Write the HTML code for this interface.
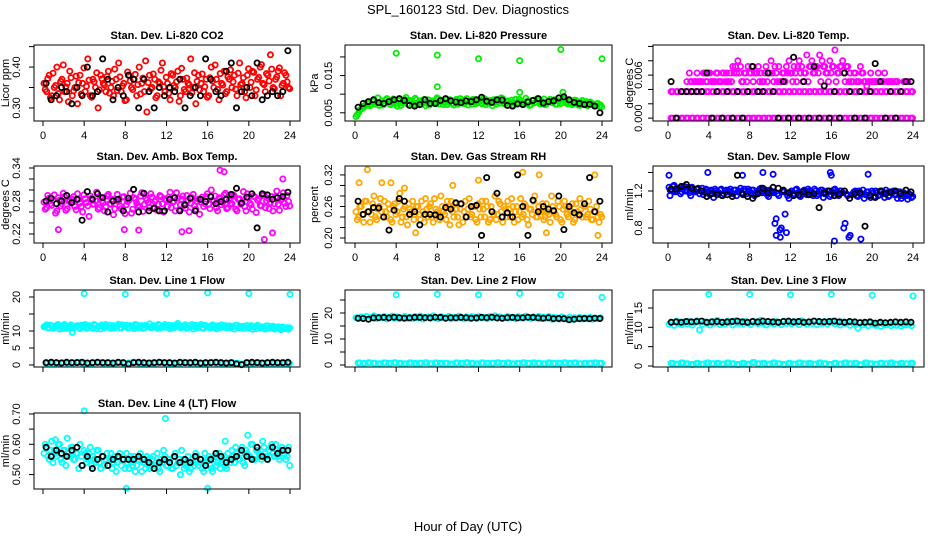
<!DOCTYPE html>
<html><head><meta charset="utf-8">
<style>
body{margin:0;background:#fff;}
svg{display:block;font-family:"Liberation Sans",Arial,sans-serif;}
</style></head>
<body>
<svg id="chart" width="936" height="540" viewBox="0 0 936 540" xmlns="http://www.w3.org/2000/svg">
<rect width="936" height="540" fill="#fff"/>
<text x="468" y="14" text-anchor="middle" font-size="13">SPL_160123  Std. Dev. Diagnostics</text>
<text x="468" y="531" text-anchor="middle" font-size="13">Hour of Day (UTC)</text>
</svg>
<script>
// ---- data ----
const hourTicks = [0,4,8,12,16,20,24];
const co2A = [0.36,0.34,0.38,0.33,0.35,0.40,0.32,0.37,0.34,0.36,0.39,0.33,0.35,0.31,0.38,0.36,0.34,0.42,0.33,0.37,0.35,0.30,0.38,0.36,
0.34,0.39,0.35,0.33,0.37,0.41,0.34,0.36,0.32,0.38,0.35,0.37,0.33,0.40,0.36,0.34,0.29,0.38,0.35,0.37,0.33,0.36,0.41,0.34,
0.36,0.32,0.38,0.35,0.39,0.33,0.37,0.34,0.36,0.42,0.35,0.31,0.38,0.36,0.34,0.37,0.33,0.40,0.35,0.37,0.32,0.36,0.39,0.34,
0.37,0.35,0.38,0.33,0.41,0.36,0.34,0.38,0.35,0.39,0.33,0.37,0.40,0.36,0.34,0.38,0.43,0.35,0.37,0.39,0.33,0.36,0.38,0.35];
const co2B = [0.345,0.372,0.325,0.385,0.355,0.335,0.365,0.405,0.352,0.315,0.374,0.342,0.378,0.362,0.334,0.398,0.353,0.368,0.326,0.364,0.386,0.344,0.371,0.356,
0.377,0.336,0.365,0.395,0.343,0.376,0.354,0.318,0.388,0.366,0.345,0.382,0.357,0.334,0.373,0.415,0.362,0.347,0.383,0.325,0.364,0.392,0.352,0.375,
0.336,0.384,0.355,0.364,0.316,0.397,0.345,0.373,0.356,0.337,0.386,0.365,0.344,0.383,0.352,0.326,0.374,0.366,0.405,0.345,0.384,0.356,0.335,0.376,
0.393,0.364,0.346,0.385,0.357,0.374,0.325,0.396,0.363,0.387,0.344,0.375,0.406,0.357,0.384,0.366,0.395,0.347,0.376,0.398,0.355,0.386,0.364,0.347];
const co2Black = [0.36,0.32,0.33,0.35,0.34,0.31,0.35,0.33,0.40,0.33,0.34,0.42,0.37,0.32,0.35,0.33,0.38,0.37,0.30,0.37,0.34,0.30,0.35,0.33,
0.35,0.34,0.37,0.30,0.33,0.35,0.33,0.42,0.37,0.34,0.33,0.39,0.41,0.30,0.34,0.35,0.33,0.41,0.32,0.33,0.34,0.33,0.34,0.44];
const presA = [0.004,0.005,0.006,0.0065,0.007,0.0075,0.0072,0.0085,0.0078,0.007,0.0082,0.0076,0.0088,0.0074,0.0081,0.0079,0.0068,0.0084,0.0077,0.0086,0.0073,0.0083,0.0076,0.0089,
0.0075,0.0082,0.0078,0.0069,0.0085,0.0077,0.0081,0.0074,0.0087,0.0079,0.0072,0.0084,0.0078,0.0083,0.0071,0.0086,0.0077,0.0082,0.0075,0.0088,0.0079,0.0073,0.0085,0.0078,
0.0081,0.0074,0.0087,0.0077,0.0083,0.0069,0.0085,0.0079,0.0076,0.0088,0.0074,0.0082,0.0078,0.0071,0.0086,0.0077,0.0081,0.0075,0.0089,0.0078,0.0072,0.0084,0.0079,0.0083,
0.0076,0.0087,0.0074,0.0081,0.0078,0.0085,0.0073,0.0082,0.0077,0.0086,0.0075,0.0080,0.0072,0.0084,0.0078,0.0070,0.0083,0.0076,0.0069,0.0079,0.0073,0.0068,0.0075,0.0071];
const presB = [0.0045,0.0058,0.0062,0.0070,0.0078,0.0069,0.0080,0.0073,0.0090,0.0076,0.0071,0.0084,0.0079,0.0072,0.0087,0.0075,0.0083,0.0070,0.0078,0.0091,0.0074,0.0080,0.0072,0.0085,
0.0079,0.0073,0.0086,0.0076,0.0071,0.0082,0.0078,0.0090,0.0074,0.0081,0.0077,0.0072,0.0085,0.0075,0.0080,0.0073,0.0088,0.0076,0.0083,0.0071,0.0078,0.0086,0.0074,0.0081,
0.0076,0.0089,0.0072,0.0080,0.0078,0.0085,0.0073,0.0082,0.0090,0.0075,0.0079,0.0071,0.0084,0.0077,0.0073,0.0086,0.0079,0.0074,0.0081,0.0070,0.0083,0.0077,0.0088,0.0074,
0.0080,0.0072,0.0079,0.0086,0.0077,0.0073,0.0082,0.0075,0.0089,0.0078,0.0074,0.0081,0.0076,0.0083,0.0071,0.0078,0.0074,0.0080,0.0072,0.0076,0.0070,0.0074,0.0068,0.0066];
const presOutX = [4,8,8,12,16,16,20,20.2,24];
const presOutY = [0.021,0.0205,0.012,0.0195,0.019,0.0105,0.022,0.0105,0.0195];
const presBlack = [0.0065,0.0075,0.0080,0.0085,0.0077,0.0075,0.0080,0.0085,0.0088,0.0083,0.0070,0.0068,0.0072,0.0085,0.0075,0.0075,0.0083,0.0088,0.0082,0.0079,0.0077,0.0082,0.0080,0.0085,
0.0092,0.0081,0.0078,0.0085,0.0084,0.0070,0.0068,0.0074,0.0072,0.0079,0.0083,0.0088,0.0076,0.0080,0.0082,0.0090,0.0093,0.0085,0.0078,0.0075,0.0072,0.0073,0.0068,0.0050];
const tempZero = [0,0,0,0,0,0,0,0,0,0,0,0,0,0,0,0,0,0,0,0,0,0,0,0,0,0,0,0,0,0,0,0,0,0,0,0,0,0,0,0,0,0,0,0,0,0,0,0];
const tempQuarter = [0.0037,0.0037,0.0037,0.0037,0.0037,0.0037,0.0037,0.0037,0.0037,0.0037,0.0037,0.0037,0.0037,0.0037,0.0037,0.0037,0.0037,0.0037,0.0037,0.0037,0.0037,0.0037,0.0037,0.0037,
0.0037,0.0037,0.0037,0.0037,0.0037,0.0037,0.0037,0.0037,0.0037,0.0037,0.0037,0.0037,0.0037,0.0037,0.0037,0.0037,0.0037,0.0037,0.0037,0.0037,0.0037,0.0037,0.0037,0.0037];
const tempHighA = [null,null,null,null,null,null,null,0.0051,0.0063,0.0051,0.0051,0.0063,0.0051,0.0051,0.0063,0.0051,0.0063,0.0051,0.0051,0.0063,0.0051,0.0063,0.0051,0.0051,
0.0063,0.0072,0.0072,0.008,0.0072,0.0051,0.0063,0.0072,0.0063,0.0051,0.0063,0.0072,0.0063,0.0051,0.0072,0.0063,0.008,0.0051,0.0063,0.0072,0.0051,0.0063,0.0072,0.008,
0.0063,0.0072,0.0051,0.008,0.0072,0.0063,0.0088,0.0072,0.008,0.0063,0.0072,0.0088,0.008,0.0072,0.0063,0.008,0.0072,0.0095,0.0063,0.0072,0.008,0.0051,0.0072,0.0063,
0.0051,0.0063,0.0051,0.0072,0.0063,0.0051,0.0051,0.0063,0.0051,0.0051,0.0063,0.0051,0.0051,null,0.0051,0.0051,null,0.0051,null,null,0.0051,null,null,null];
const tempHighB = [null,null,null,null,null,null,null,null,0.0051,null,0.0051,0.0051,0.0051,0.0063,0.0051,0.0063,0.0051,0.0051,0.0063,0.0051,0.0051,0.0063,0.0063,0.0051,
0.0051,0.0063,0.0063,0.0063,0.0051,0.0063,0.0051,0.0063,0.0072,0.0063,0.0063,0.0051,0.0051,0.0063,0.0051,0.0063,0.0063,0.0072,0.0051,0.0051,0.0063,0.0051,0.0063,0.0063,
0.0051,0.0063,0.0072,0.0063,0.0051,0.0063,0.0051,0.0072,0.0063,0.0072,0.0063,0.0051,0.0072,0.0063,0.0051,0.0063,0.0072,0.0051,0.0063,0.0072,0.0063,0.0072,0.0051,0.0051,
0.0063,0.0051,0.0051,0.0063,0.0051,0.0045,0.0051,0.0051,0.0051,0.0051,0.0051,0.0051,0.0063,0.0051,0.0051,0.0051,0.0051,0.0051,null,null,0.0051,0.0051,null,null];
const tempBlack = [0.0051,0,0.0037,0.0037,0.0037,0.0037,0.0037,0.0063,0,0.0037,0,0.0037,0,0.0037,0,0.0037,0.0072,0.0037,0.0037,0.0063,0.0037,0,0.0051,0,
0.0085,0,0.0051,0,0.0072,0,0.0045,0,0.0037,0,0.0063,0.0037,0,0.0037,0,0.0037,0.0076,0.0051,0,0.0037,0,0.0037,0.0051,0.0051];
const ambA = [0.278,0.268,0.285,0.272,0.291,0.262,0.281,0.275,0.288,0.266,0.279,0.283,0.27,0.293,0.276,0.26,0.284,0.271,0.289,0.274,0.28,0.265,0.287,0.277,
0.269,0.292,0.274,0.255,0.283,0.279,0.266,0.288,0.273,0.281,0.258,0.286,0.276,0.27,0.295,0.274,0.282,0.268,0.287,0.279,0.263,0.29,0.275,0.284,
0.27,0.296,0.278,0.262,0.285,0.273,0.289,0.267,0.281,0.276,0.292,0.265,0.283,0.278,0.27,0.288,0.274,0.3,0.279,0.268,0.286,0.273,0.291,0.266,
0.281,0.275,0.289,0.262,0.284,0.278,0.27,0.293,0.276,0.265,0.287,0.281,0.272,0.29,0.268,0.285,0.277,0.262,0.288,0.274,0.281,0.295,0.27,0.279];
const ambB = [0.265,0.29,0.275,0.282,0.258,0.286,0.271,0.294,0.263,0.28,0.276,0.288,0.264,0.283,0.27,0.291,0.277,0.252,0.285,0.274,0.296,0.268,0.28,0.262,
0.289,0.275,0.283,0.266,0.292,0.271,0.287,0.257,0.279,0.294,0.265,0.283,0.272,0.289,0.261,0.285,0.277,0.293,0.266,0.282,0.274,0.288,0.26,0.281,
0.287,0.268,0.279,0.295,0.264,0.283,0.272,0.29,0.26,0.286,0.271,0.279,0.256,0.287,0.275,0.293,0.266,0.281,0.289,0.262,0.284,0.277,0.294,0.268,
0.276,0.291,0.265,0.283,0.274,0.297,0.262,0.286,0.273,0.289,0.259,0.284,0.271,0.292,0.28,0.266,0.288,0.275,0.298,0.263,0.284,0.276,0.29,0.271];
const ambOutX = [1.5,7.9,9.3,13.5,14.2,17.2,17.6,21.5,22.3,23.3];
const ambOutY = [0.228,0.228,0.227,0.224,0.226,0.336,0.333,0.210,0.222,0.320];
const ambBlack = [0.28,0.285,0.275,0.28,0.29,0.277,0.283,0.245,0.297,0.283,0.293,0.286,0.26,0.280,0.283,0.262,0.285,0.301,0.26,0.294,0.262,0.267,0.262,0.262,
0.283,0.286,0.262,0.273,0.285,0.262,0.283,0.279,0.288,0.275,0.279,0.283,0.292,0.303,0.276,0.287,0.293,0.231,0.293,0.291,0.283,0.286,0.288,0.296];
const rhA = [0.25,0.24,0.26,0.23,0.27,0.25,0.245,0.28,0.235,0.26,0.25,0.27,0.24,0.255,0.23,0.265,0.25,0.285,0.24,0.26,0.225,0.255,0.27,0.245,
0.26,0.235,0.25,0.275,0.24,0.265,0.23,0.255,0.245,0.28,0.25,0.235,0.26,0.27,0.24,0.255,0.225,0.265,0.25,0.24,0.275,0.245,0.26,0.23,
0.255,0.27,0.24,0.26,0.235,0.25,0.28,0.245,0.265,0.23,0.255,0.27,0.24,0.26,0.25,0.235,0.275,0.245,0.26,0.225,0.255,0.27,0.24,0.26,
0.25,0.235,0.265,0.245,0.28,0.25,0.24,0.26,0.23,0.27,0.245,0.255,0.265,0.235,0.25,0.275,0.24,0.26,0.245,0.255,0.235,0.25,0.24,0.245];
const rhB = [0.235,0.26,0.245,0.27,0.25,0.23,0.265,0.24,0.255,0.275,0.24,0.25,0.265,0.235,0.26,0.245,0.27,0.23,0.255,0.24,0.265,0.25,0.235,0.26,
0.245,0.27,0.23,0.255,0.26,0.24,0.275,0.25,0.235,0.26,0.245,0.27,0.225,0.25,0.265,0.24,0.255,0.23,0.27,0.255,0.24,0.26,0.235,0.265,
0.24,0.255,0.27,0.23,0.26,0.245,0.235,0.27,0.25,0.26,0.24,0.255,0.275,0.23,0.26,0.25,0.24,0.265,0.235,0.255,0.245,0.28,0.24,0.25,
0.265,0.24,0.25,0.23,0.26,0.245,0.27,0.235,0.255,0.26,0.24,0.25,0.23,0.265,0.245,0.255,0.26,0.24,0.27,0.235,0.25,0.26,0.23,0.24];
const rhOutX = [0.4,1.2,2.6,3.5,4.8,5.9,9.5,12.0,16.3,17.9,18.6,23.3,23.6];
const rhOutY = [0.305,0.33,0.305,0.305,0.295,0.21,0.30,0.31,0.325,0.32,0.21,0.32,0.205];
const rhBlack = [0.27,0.245,0.25,0.258,0.257,0.24,0.215,0.253,0.275,0.27,0.245,0.25,0.225,0.245,0.245,0.244,0.24,0.258,0.255,0.267,0.265,0.24,0.26,0.262,
0.205,0.315,0.25,0.285,0.24,0.248,0.24,0.32,0.26,0.205,0.272,0.25,0.26,0.255,0.252,0.28,0.216,0.26,0.248,0.244,0.265,0.315,0.25,0.27];
const flowA = [1.24,1.22,1.26,1.2,1.23,1.19,1.25,1.21,1.18,1.24,1.2,1.22,1.17,1.23,1.19,1.21,1.16,1.2,1.22,1.18,1.21,1.15,1.2,1.19,
1.22,1.17,1.21,1.19,1.23,1.16,1.2,1.22,1.18,1.21,1.17,1.2,1.23,1.19,1.21,1.14,1.2,1.18,0.9,1.15,0.8,1.19,0.75,1.12,
1.2,1.17,1.22,1.15,1.19,1.21,1.16,1.2,1.18,1.22,1.15,1.19,1.21,1.17,1.2,1.14,1.19,1.22,1.16,1.2,1.18,0.85,1.15,0.72,
1.17,1.2,1.14,1.18,1.21,1.16,1.19,1.13,1.18,1.2,1.15,1.19,1.17,1.21,1.14,1.18,1.2,1.16,1.19,1.12,1.18,1.15,1.17,1.13];
const flowB = [1.21,1.25,1.19,1.23,1.17,1.22,1.2,1.24,1.15,1.21,1.19,1.23,1.2,1.16,1.22,1.19,1.21,1.13,1.2,1.18,1.22,1.17,1.21,1.2,
1.18,1.21,1.15,1.2,1.18,1.22,1.17,1.2,1.21,1.15,1.19,1.22,1.18,1.2,1.16,1.21,1.19,0.85,1.17,0.78,1.2,0.95,1.15,1.18,
1.16,1.21,1.18,1.14,1.2,1.17,1.22,1.19,1.15,1.2,1.17,1.21,1.13,1.18,1.2,1.16,1.21,1.18,1.15,1.2,0.8,1.17,0.7,1.16,
1.19,1.15,1.2,1.17,1.12,1.19,1.16,1.2,1.14,1.18,1.16,1.2,1.13,1.18,1.15,1.19,1.16,1.12,1.19,1.15,1.17,1.11,1.16,1.14];
const flowOutX = [0.1,0.2,3.9,7.3,9.3,10.3,15.9,16.0,18.9,19.6,16.3,10.6,11.0];
const flowOutY = [1.37,1.15,1.40,1.37,1.40,1.38,1.40,1.37,0.68,1.38,0.66,0.72,0.7];
const flowBlack = [1.22,1.22,1.25,1.27,1.23,1.22,1.2,1.14,1.17,1.16,1.15,1.16,1.14,1.37,1.17,1.14,1.12,1.17,1.23,1.18,1.24,1.23,1.21,1.18,
1.15,1.16,1.19,1.16,1.17,1.02,1.18,1.2,1.15,1.17,1.2,1.12,1.17,1.18,0.82,1.15,1.13,1.2,1.17,1.19,1.2,1.17,1.21,1.19];
const line1HiA = [11.2,11.8,10.9,11.5,11.0,11.7,10.6,11.4,11.9,10.8,11.3,9.6,11.1,11.6,10.7,11.4,11.9,11.0,11.5,10.8,11.7,11.2,10.6,11.5,
11.9,11.1,10.8,11.6,11.3,12.0,10.9,11.4,11.7,11.0,11.5,10.7,11.8,11.2,11.6,10.9,11.4,12.1,11.0,11.5,10.8,11.7,11.3,11.9,
11.1,10.7,11.6,11.3,12.2,10.9,11.5,11.8,11.0,11.4,10.6,11.7,11.2,11.9,10.8,11.5,11.3,11.0,11.6,10.7,11.4,11.8,11.1,10.9,
11.5,11.2,10.6,11.7,11.0,11.4,10.8,11.6,11.1,10.5,11.3,11.7,10.9,11.2,10.6,11.5,11.0,11.4,10.7,11.2,10.4,11.0,10.8,10.5];
const line1HiB = [11.5,11.0,11.7,10.8,11.3,11.9,11.1,10.7,11.6,11.2,11.8,10.9,11.4,11.0,11.7,11.3,10.8,11.6,11.1,11.9,10.7,11.4,11.8,11.0,
11.3,11.7,11.1,10.9,11.5,11.0,11.8,11.3,10.9,11.6,11.2,11.9,11.0,11.5,10.8,11.7,11.3,11.0,11.6,11.2,11.9,10.9,11.4,11.1,
11.7,11.2,10.9,11.8,11.4,11.1,11.6,10.8,11.5,11.9,11.3,10.9,11.6,11.0,11.7,11.2,10.9,11.8,11.1,11.5,11.0,11.3,11.6,11.2,
10.9,11.4,11.7,11.0,11.3,10.8,11.5,11.0,11.6,11.2,10.7,11.4,11.1,10.8,11.5,10.9,11.3,10.6,11.1,10.8,11.2,10.7,11.0,10.9];
const line1Low = [0.5,0.6,0.4,0.7,0.5,0.6,0.8,0.5,0.4,0.6,0.7,0.5,0.6,0.4,0.7,0.5,0.6,0.8,0.5,0.4,0.6,0.5,0.7,0.6,0.5,0.4,0.6,0.7,0.5,0.6,0.4,0.5,0.7,0.6,0.5,0.4,0.6,0.5,0.3,0.6,0.5,0.7,0.4,0.6,0.5,0.6,0.4,0.5];
const line1Black = [0.7,0.8,0.7,0.6,0.8,0.7,0.7,0.8,0.6,0.7,0.8,0.7,0.7,0.6,0.8,0.7,0.3,0.7,0.8,0.7,0.6,0.7,0.8,0.7,0.7,0.6,0.8,0.7,0.7,0.8,0.6,0.7,0.7,0.8,0.7,0.6,0.7,0.3,0.1,0.7,0.8,0.7,0.6,0.7,0.8,0.7,0.7,0.8];
const line1OutY = [21,20.8,21,21.2,21,20.8];
const line2Hi = [18.2,17.8,18.5,18.0,18.7,17.6,18.3,18.9,17.9,18.4,18.1,18.6,17.7,18.3,18.8,18.0,18.5,17.8,18.2,18.7,18.0,18.4,17.9,18.6,
18.1,18.8,17.7,18.3,18.5,18.0,18.9,18.2,17.8,18.6,18.3,18.0,18.7,17.9,18.4,18.1,18.8,18.2,17.8,18.5,18.0,18.6,18.3,17.9,
18.7,18.1,18.4,17.8,18.6,18.2,18.9,18.0,18.5,17.9,18.3,18.7,18.1,18.4,17.8,18.6,18.2,18.0,18.8,18.3,17.9,18.5,18.1,18.7,
17.8,18.4,18.0,18.6,17.6,18.3,18.1,17.7,18.5,18.0,17.8,18.4,17.6,18.2,17.9,18.3,17.7,18.1,17.8,18.4,17.6,18.0,17.8,18.2];
const line2Low = [0.8,0.6,0.9,0.7,0.5,0.8,0.6,0.9,0.7,0.5,0.8,0.6,0.7,0.9,0.5,0.8,0.6,0.7,0.4,0.8,0.6,0.9,0.7,0.5,0.8,0.6,0.7,0.9,0.6,0.8,0.5,0.7,0.9,0.6,0.8,0.7,0.5,0.8,0.6,0.7,0.9,0.6,0.8,0.5,0.7,0.6,0.8,0.7];
const line2Black = [18.0,17.9,17.6,18.1,18.2,18.3,18.1,18.4,18.2,18.0,18.1,18.3,18.3,18.2,18.1,18.4,18.3,18.0,18.2,18.1,18.3,18.2,18.0,18.1,18.3,18.2,18.4,18.1,18.0,18.2,18.3,18.1,18.2,18.4,18.3,18.1,18.0,18.2,17.8,17.9,17.8,17.4,17.6,17.8,17.9,17.8,18.0,17.9];
const line2OutY = [27,27.2,27,27.5,27,26];
const line3Hi = [10.8,11.3,10.5,11.6,11.0,10.7,11.4,10.9,11.5,10.6,11.2,11.7,9.3,10.8,11.4,11.0,10.6,11.5,11.1,11.8,10.7,11.3,10.9,11.6,
11.2,10.6,11.7,11.0,11.4,10.8,11.5,11.1,10.7,11.6,11.2,10.9,11.8,11.0,10.6,11.4,11.1,10.8,11.5,11.2,10.7,11.6,11.0,11.3,
10.9,11.5,11.1,10.7,11.7,11.2,10.8,11.4,11.0,11.6,10.7,11.3,11.0,11.5,10.8,11.2,11.6,10.9,11.3,10.6,11.4,11.0,11.2,10.5,
11.1,10.7,9.8,11.3,10.6,11.0,10.4,11.2,10.8,10.5,11.1,10.3,10.9,10.6,11.0,10.4,10.8,10.5,11.0,10.3,10.7,10.6,10.9,10.4];
const line3Low = [0.7,0.5,0.8,0.6,0.4,0.7,0.5,0.8,0.6,0.7,0.5,0.8,0.6,0.4,0.7,0.5,0.9,0.6,0.7,0.5,0.8,0.6,0.4,0.7,0.5,0.8,0.6,0.7,0.5,0.8,0.6,0.4,0.7,0.5,0.8,0.6,0.7,0.3,0.8,0.6,0.5,0.7,0.6,0.8,0.5,0.7,0.6,0.7];
const line3Black = [11.3,11.4,11.3,11.5,11.4,11.5,11.6,11.3,11.4,11.5,11.3,11.4,11.5,11.6,11.4,11.3,11.5,11.4,11.6,11.5,11.4,11.3,11.5,11.6,11.4,11.5,11.3,11.4,11.6,11.5,11.4,11.5,11.6,11.4,11.3,11.5,11.4,11.2,11.3,11.4,11.1,11.3,11.2,11.3,11.4,11.3,11.4,11.3];
const line3OutY = [18.5,18.5,18.4,18.5,18.3,18.1];
const line4A = [0.57,0.59,0.55,0.61,0.58,0.56,0.6,0.54,0.58,0.62,0.56,0.59,0.55,0.57,0.6,0.53,0.57,0.55,0.59,0.56,0.54,0.58,0.52,0.56,
0.55,0.53,0.57,0.54,0.51,0.56,0.53,0.55,0.57,0.52,0.54,0.56,0.53,0.55,0.51,0.54,0.56,0.52,0.55,0.53,0.57,0.51,0.54,0.56,
0.53,0.55,0.52,0.57,0.54,0.5,0.55,0.53,0.56,0.52,0.54,0.57,0.53,0.55,0.51,0.54,0.56,0.52,0.55,0.53,0.57,0.54,0.56,0.52,
0.55,0.58,0.54,0.57,0.55,0.59,0.53,0.57,0.56,0.6,0.55,0.58,0.56,0.61,0.57,0.55,0.59,0.57,0.6,0.56,0.58,0.57,0.55,0.59];
const line4B = [0.6,0.56,0.58,0.54,0.57,0.6,0.55,0.58,0.53,0.56,0.59,0.55,0.57,0.52,0.56,0.58,0.54,0.57,0.53,0.55,0.58,0.54,0.56,0.53,
0.57,0.55,0.52,0.56,0.54,0.57,0.55,0.52,0.54,0.56,0.53,0.51,0.55,0.57,0.54,0.52,0.55,0.53,0.56,0.54,0.52,0.55,0.58,0.53,
0.55,0.52,0.56,0.53,0.55,0.58,0.52,0.54,0.51,0.55,0.53,0.56,0.54,0.52,0.57,0.55,0.53,0.51,0.56,0.54,0.52,0.55,0.53,0.57,
0.54,0.56,0.59,0.55,0.57,0.54,0.58,0.56,0.6,0.55,0.58,0.57,0.55,0.59,0.56,0.58,0.6,0.56,0.58,0.55,0.59,0.57,0.56,0.53];
const line4OutX = [4.0,11.9,8.1,16.0,19.9,17.7,1.2];
const line4OutY = [0.71,0.685,0.455,0.455,0.63,0.61,0.615];
const line4Black = [0.59,0.56,0.58,0.57,0.56,0.58,0.59,0.53,0.56,0.52,0.55,0.56,0.53,0.55,0.56,0.55,0.55,0.55,0.56,0.55,0.54,0.52,0.54,0.55,
0.54,0.56,0.54,0.55,0.54,0.56,0.55,0.53,0.55,0.57,0.56,0.54,0.55,0.56,0.58,0.56,0.55,0.59,0.56,0.55,0.59,0.57,0.58,0.58];
const outlierHours = [4,8,12,16,20,24];

// ---- layout ----
const NS = 'http://www.w3.org/2000/svg';
const svg = document.getElementById('chart');
const cols = [{bx0:34,bx1:300,h0:43,h24:290,lab:14,tit:25},{bx0:345,bx1:612,h0:355,h24:602,lab:13,tit:27},{bx0:653,bx1:924,h0:668,h24:913,lab:11,tit:20}];
const rows = [{top:45,bot:121,xl:true},{top:166,bot:243,xl:true},{top:290,bot:367,xl:false},{top:413,bot:489,xl:false}];
const qx = i => i*0.25 + 0.1;
const qxB = i => i*0.25 + 0.22;
const hx = i => i*0.5 + 0.3;
const hx2 = i => i*0.5 + 0.45;

function el(tag, attrs, parent){ const e=document.createElementNS(NS,tag); for(const k in attrs) e.setAttribute(k,attrs[k]); (parent||svg).appendChild(e); return e; }

function panel(slug, title, ylab, r, c, ylim, ticks, labels, series){
  const C=cols[c], R=rows[r];
  const g = el('g',{});
  
  
  const xs = h => C.h0 + (h/24)*(C.h24-C.h0);
  const ys = v => R.bot - (v-ylim[0])/(ylim[1]-ylim[0])*(R.bot-R.top);
  const pg = el('g',{fill:'none'},g);
  
  
  series.forEach(s=>{
    s.vals.forEach((v,i)=>{
      if(v===null) return;
      const x = s.xs ? s.xs[i] : s.xf(i);
      const cy=ys(v);
      if(cy<R.top-3||cy>R.bot+3) return;
      const p = el('circle',{cx:xs(x).toFixed(1),cy:cy.toFixed(1),r:2.6,stroke:s.color,'stroke-width':s.color==='#000'?1.8:1.8},pg);
      
      
    });
  });
  const b = el('rect',{x:C.bx0,y:R.top,width:C.bx1-C.bx0,height:R.bot-R.top,fill:'none',stroke:'#000','stroke-width':1},g);
  
  
  const xa = el('g',{stroke:'#000','stroke-width':1},g);
  
  
  el('line',{x1:xs(0),x2:xs(24),y1:R.bot,y2:R.bot},xa);
  hourTicks.forEach(h=>{
    el('line',{x1:xs(h),x2:xs(h),y1:R.bot,y2:R.bot+5},xa);
    if(R.xl){
      const t = el('text',{x:xs(h),y:R.bot+18,'text-anchor':'middle','font-size':11,stroke:'none',fill:'#000'},g);
      t.textContent=h;
      
      
    }
  });
  const ya = el('g',{stroke:'#000','stroke-width':1},g);
  
  
  el('line',{x1:C.bx0,x2:C.bx0,y1:ys(ticks[0]),y2:ys(ticks[ticks.length-1])},ya);
  ticks.forEach((v,i)=>{
    el('line',{x1:C.bx0-5,x2:C.bx0,y1:ys(v),y2:ys(v)},ya);
    if(labels[i]!==''){
      const lx=C.bx0-C.lab, ly=ys(v);
      const t = el('text',{x:lx,y:ly,'text-anchor':'middle','font-size':11,transform:`rotate(-90 ${lx} ${ly})`,stroke:'none',fill:'#000'},g);
      t.textContent=labels[i];
      
      
    }
  });
  const tx=C.bx0-C.tit, ty=(R.top+R.bot)/2;
  const yt = el('text',{x:tx,y:ty,'text-anchor':'middle','font-size':11,transform:`rotate(-90 ${tx} ${ty})`},g);
  yt.textContent=ylab;
  
  
  const pt = el('text',{x:(C.bx0+C.bx1)/2,y:R.top-6,'text-anchor':'middle','font-size':11,'font-weight':'bold'},g);
  pt.textContent=title;
  
  
}

const RED='#ff0000',GRN='#00ee00',MAG='#ff00ff',ORG='#ffa500',BLU='#0000ff',CYN='#00ffff',BLK='#000';
panel('co2','Stan. Dev. Li-820 CO2','Licor ppm',0,0,[0.268,0.454],[0.30,0.35,0.40,0.45],['0.30','','0.40',''],
 [{vals:co2A,xf:qx,color:RED},{vals:co2B,xf:qxB,color:RED},{vals:co2Black,xf:hx,color:BLK}]);
panel('pressure','Stan. Dev. Li-820 Pressure','kPa',0,1,[0.0028,0.0232],[0.005,0.010,0.015,0.020],['0.005','','0.015',''],
 [{vals:presA,xf:qx,color:GRN},{vals:presB,xf:qxB,color:GRN},{vals:presOutY,xs:presOutX,color:GRN},{vals:presBlack,xf:hx,color:BLK}]);
panel('li820-temp','Stan. Dev. Li-820 Temp.','degrees C',0,2,[-0.0004,0.0102],[0,0.002,0.004,0.006,0.008,0.010],['0.000','','','0.006','',''],
 [{vals:tempZero,xf:hx,color:MAG},{vals:tempZero,xf:hx2,color:MAG},{vals:tempQuarter,xf:hx,color:MAG},{vals:tempQuarter,xf:hx2,color:MAG},{vals:tempHighA,xf:qx,color:MAG},{vals:tempHighB,xf:qxB,color:MAG},{vals:tempBlack,xf:hx,color:BLK}]);
panel('amb-box-temp','Stan. Dev. Amb. Box Temp.','degrees C',1,0,[0.2036,0.3436],[0.22,0.24,0.26,0.28,0.30,0.32,0.34],['0.22','','','0.28','','','0.34'],
 [{vals:ambA,xf:qx,color:MAG},{vals:ambB,xf:qxB,color:MAG},{vals:ambOutY,xs:ambOutX,color:MAG},{vals:ambBlack,xf:hx,color:BLK}]);
panel('gas-stream-rh','Stan. Dev. Gas Stream RH','percent',1,1,[0.1905,0.337],[0.20,0.22,0.24,0.26,0.28,0.30,0.32],['0.20','','','0.26','','','0.32'],
 [{vals:rhA,xf:qx,color:ORG},{vals:rhB,xf:qxB,color:ORG},{vals:rhOutY,xs:rhOutX,color:ORG},{vals:rhBlack,xf:hx,color:BLK}]);
panel('sample-flow','Stan. Dev. Sample Flow','ml/min',1,2,[0.638,1.47],[0.8,1.0,1.2,1.4],['0.8','','1.2',''],
 [{vals:flowA,xf:qx,color:BLU},{vals:flowB,xf:qxB,color:BLU},{vals:flowOutY,xs:flowOutX,color:BLU},{vals:flowBlack,xf:hx,color:BLK}]);
panel('line1-flow','Stan. Dev. Line 1 Flow','ml/min',2,0,[-0.59,22.06],[0,5,10,15,20],['0','5','10','','20'],
 [{vals:line1HiA,xf:qx,color:CYN},{vals:line1HiB,xf:qxB,color:CYN},{vals:line1Low,xf:hx2,color:CYN},{vals:line1Low,xf:hx,color:CYN},{vals:line1OutY,xs:outlierHours,color:CYN},{vals:line1Black,xf:hx,color:BLK}]);
panel('line2-flow','Stan. Dev. Line 2 Flow','ml/min',2,1,[-0.77,28.85],[0,5,10,15,20,25],['0','','10','','20',''],
 [{vals:line2Hi,xf:qx,color:CYN},{vals:line2Low,xf:hx2,color:CYN},{vals:line2Low,xf:hx,color:CYN},{vals:line2OutY,xs:outlierHours,color:CYN},{vals:line2Black,xf:hx,color:BLK}]);
panel('line3-flow','Stan. Dev. Line 3 Flow','ml/min',2,2,[-0.26,19.65],[0,5,10,15],['0','5','10','15'],
 [{vals:line3Hi,xf:qx,color:CYN},{vals:line3Low,xf:hx2,color:CYN},{vals:line3Low,xf:hx,color:CYN},{vals:line3OutY,xs:outlierHours,color:CYN},{vals:line3Black,xf:hx,color:BLK}]);
panel('line4-flow','Stan. Dev. Line 4 (LT) Flow','ml/min',3,0,[0.4524,0.7032],[0.50,0.55,0.60,0.65,0.70],['0.50','','0.60','','0.70'],
 [{vals:line4A,xf:qx,color:CYN},{vals:line4B,xf:qxB,color:CYN},{vals:line4OutY,xs:line4OutX,color:CYN},{vals:line4Black,xf:hx,color:BLK}]);
</script>
</body></html>
